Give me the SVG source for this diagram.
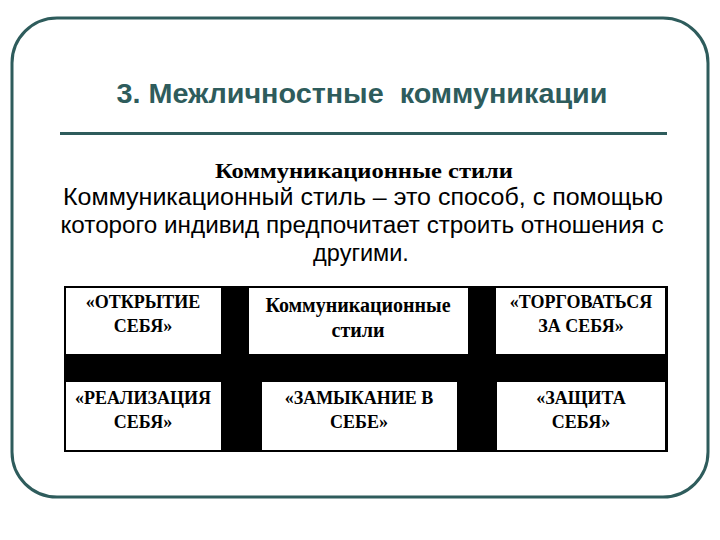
<svg xmlns="http://www.w3.org/2000/svg" width="720" height="540" viewBox="0 0 720 540">
<style>
.title{font-family:"Liberation Sans",Arial,sans-serif;font-weight:bold;font-size:27px;fill:#2E5C5C;white-space:pre}
.head{font-family:"Liberation Serif","Times New Roman",serif;font-weight:bold;font-size:21px;fill:#000}
.body{font-family:"Liberation Sans",Arial,sans-serif;font-size:23.5px;fill:#000}
.cell{font-family:"Liberation Serif","Times New Roman",serif;font-weight:bold;font-size:18px;fill:#000}
.box{fill:#fff}
</style>
<rect x="12" y="18" width="696" height="479" rx="45" ry="45" fill="#fff" stroke="#2E5C5C" stroke-width="3"/>
<text class="title" x="362" y="103" text-anchor="middle" textLength="491" lengthAdjust="spacingAndGlyphs">3. Межличностные  коммуникации</text>
<rect x="60" y="132" width="607" height="3" fill="#2E5C5C"/>
<text class="head" x="364" y="178" text-anchor="middle" textLength="298" lengthAdjust="spacingAndGlyphs">Коммуникационные стили</text>
<text class="body" x="363" y="205" text-anchor="middle" textLength="600" lengthAdjust="spacingAndGlyphs">Коммуникационный стиль – это способ, с помощью</text>
<text class="body" x="362" y="233" text-anchor="middle" textLength="603" lengthAdjust="spacingAndGlyphs">которого индивид предпочитает строить отношения с</text>
<text class="body" x="361" y="261" text-anchor="middle">другими.</text>
<rect x="64" y="286" width="604" height="166" fill="#000"/>
<g id="n1"><rect class="box" x="66" y="288" width="155" height="66"/>
<text class="cell" x="143" y="308" text-anchor="middle">«ОТКРЫТИЕ</text><text class="cell" x="143" y="332" text-anchor="middle">СЕБЯ»</text></g>
<g id="n2"><rect class="box" x="249" y="288" width="219" height="66"/>
<text class="cell" x="358" y="312" text-anchor="middle" style="font-size:20px">Коммуникационные</text><text class="cell" x="358" y="337" text-anchor="middle" style="font-size:20px">стили</text></g>
<g id="n3"><rect class="box" x="496" y="288" width="169" height="66"/>
<text class="cell" x="581" y="308" text-anchor="middle">«ТОРГОВАТЬСЯ</text><text class="cell" x="581" y="332" text-anchor="middle">ЗА СЕБЯ»</text></g>
<g id="n4"><rect class="box" x="66" y="382" width="155" height="68"/>
<text class="cell" x="143" y="404" text-anchor="middle">«РЕАЛИЗАЦИЯ</text><text class="cell" x="143" y="428" text-anchor="middle">СЕБЯ»</text></g>
<g id="n5"><rect class="box" x="262" y="382" width="195" height="68"/>
<text class="cell" x="359" y="404" text-anchor="middle">«ЗАМЫКАНИЕ В</text><text class="cell" x="359" y="428" text-anchor="middle">СЕБЕ»</text></g>
<g id="n6"><rect class="box" x="497" y="382" width="168" height="68"/>
<text class="cell" x="581" y="404" text-anchor="middle">«ЗАЩИТА</text><text class="cell" x="581" y="428" text-anchor="middle">СЕБЯ»</text></g>
<g id="connectors"></g>
</svg>
